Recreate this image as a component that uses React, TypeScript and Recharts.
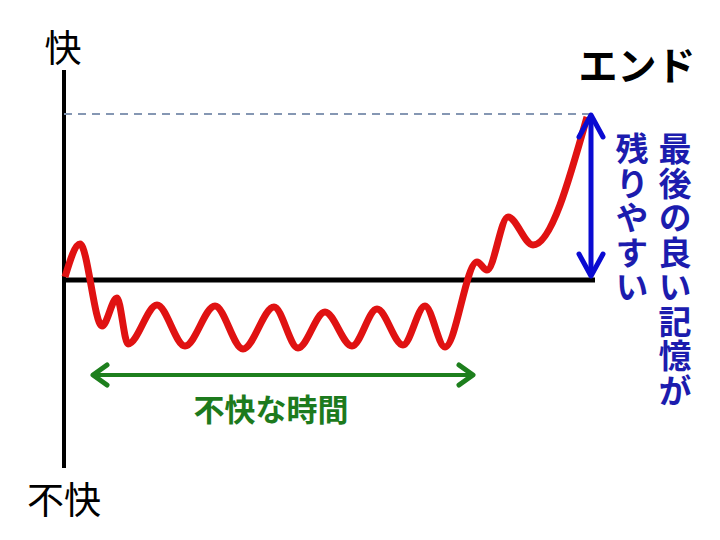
import React from 'react';
import { LineChart, Line, XAxis, YAxis, ReferenceLine } from 'recharts';

// time position of each turning point of the feeling curve
const times = [1, 16, 38, 53, 64, 93, 121, 151, 179, 210, 234, 261, 288, 313, 339, 361, 381, 413, 423, 444, 469, 523];
// comfort level at that point (0 = neutral, up = pleasant)
const feelings = [3, 36, -46, -18, -64, -25, -66, -26, -69, -27, -68, -32, -66, -29, -65, -26, -67, 18, 10, 63, 35, 163];

const xDomain = [0, 531];
const yDomain = [-188, 210];
const peakLevel = 166;
const badSpan = [29, 409];
const badLevel = -95;
const endTime = 526;

const topLabel = '快';
const bottomLabel = '不快';
const endLabel = 'エンド';
const badLabel = '不快な時間';
const memoryCols = ['最後の良い記憶が', '残りやすい'];

const data = times.map((t, i) => ({ t, v: feelings[i] }));

const font = '"Noto Sans CJK JP", "Noto Sans", sans-serif';

const App: React.FC = () => (
  <div style={{ position: 'absolute', left: 0, top: 0, width: 720, height: 540, background: '#fff' }}>
    <svg width={720} height={540} style={{ position: 'absolute', left: 0, top: 0 }}>
      <defs>
        <marker id="headGreen" viewBox="-30 -20 40 40" markerWidth={40} markerHeight={40}
          refX={0} refY={0} orient="auto-start-reverse" markerUnits="userSpaceOnUse">
          <path d="M -14 -10 L 0 0 L -14 10" fill="none" stroke="#1d7f1d" strokeWidth={5}
            strokeLinecap="round" strokeLinejoin="round" />
        </marker>
        <marker id="headBlue" viewBox="-30 -20 40 40" markerWidth={40} markerHeight={40}
          refX={0} refY={0} orient="auto-start-reverse" markerUnits="userSpaceOnUse">
          <path d="M -22 -12 L 0 0 L -22 12" fill="none" stroke="#0a0ad2" strokeWidth={5}
            strokeLinecap="round" strokeLinejoin="round" />
        </marker>
      </defs>
      <text x={63} y={46} fontFamily={font} fontSize={37} textAnchor="middle" dominantBaseline="central" fill="#000">
        {topLabel}
      </text>
      <text x={64} y={498} fontFamily={font} fontSize={37} textAnchor="middle" dominantBaseline="central" fill="#000">
        {bottomLabel}
      </text>
      <text x={637} y={63} fontFamily={font} fontSize={39} fontWeight={700} textAnchor="middle" dominantBaseline="central" fill="#000">
        {endLabel}
      </text>
      <text x={271} y={407} fontFamily={font} fontSize={31} fontWeight={700} textAnchor="middle" dominantBaseline="central" fill="#1d7a1d">
        {badLabel}
      </text>
      {memoryCols.map((col, c) => (
        <text key={c} x={c === 0 ? 675 : 632} y={132} fontFamily={font} fontSize={33} fontWeight={700}
          letterSpacing={1.5} fill="#1c1cae" style={{ writingMode: 'vertical-rl' }}>
          {col}
        </text>
      ))}
    </svg>
    <div style={{ position: 'absolute', left: 0, top: 0 }}>
      <LineChart width={720} height={540} data={data} margin={{ top: 70, right: 125, bottom: 72, left: 64 }}>
        <XAxis type="number" dataKey="t" domain={xDomain} hide />
        <YAxis type="number" domain={yDomain} hide />
        <ReferenceLine x={0} stroke="#000" strokeWidth={4} />
        <ReferenceLine y={0} stroke="#000" strokeWidth={5} />
        <ReferenceLine segment={[{ x: 0, y: peakLevel }, { x: endTime, y: peakLevel }]}
          stroke="#8597b3" strokeWidth={2} strokeDasharray="8 6" />
        <ReferenceLine segment={[{ x: badSpan[0], y: badLevel }, { x: badSpan[1], y: badLevel }]}
          stroke="#1d7f1d" strokeWidth={4} markerStart="url(#headGreen)" markerEnd="url(#headGreen)" />
        <Line type="monotone" dataKey="v" stroke="#e01212" strokeWidth={7} dot={false}
          isAnimationActive={false} />
        <ReferenceLine segment={[{ x: endTime + 1, y: peakLevel - 1 }, { x: endTime + 1, y: 4 }]}
          stroke="#0a0ad2" strokeWidth={5} markerStart="url(#headBlue)" markerEnd="url(#headBlue)" />
      </LineChart>
    </div>
  </div>
);

export default App;
